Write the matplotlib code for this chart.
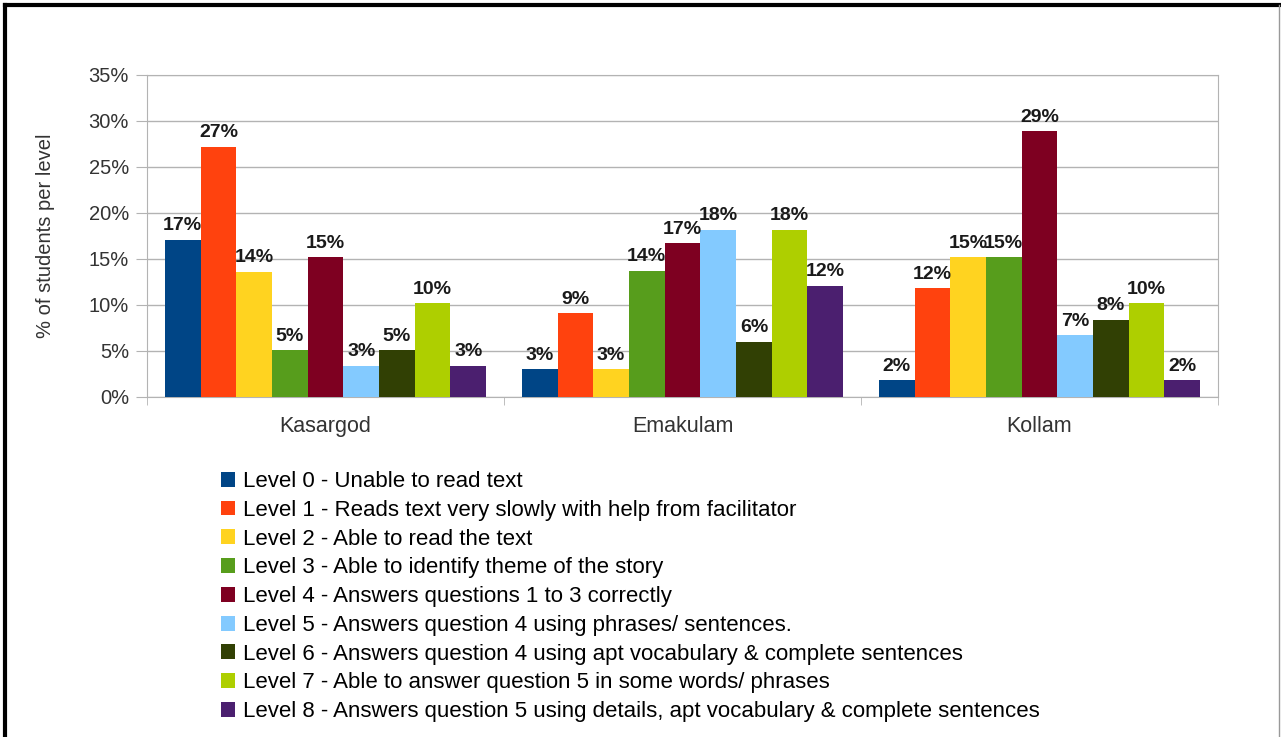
import matplotlib
matplotlib.use("Agg")
import matplotlib.pyplot as plt
from matplotlib.patches import Patch
from matplotlib.lines import Line2D
import numpy as np

plt.rcParams['font.family'] = ['Liberation Sans', 'DejaVu Sans']

districts = ["Kasargod", "Emakulam", "Kollam"]
levels = [
    "Level 0 - Unable to read text",
    "Level 1 - Reads text very slowly with help from facilitator",
    "Level 2 - Able to read the text",
    "Level 3 - Able to identify theme of the story",
    "Level 4 - Answers questions 1 to 3 correctly",
    "Level 5 - Answers question 4 using phrases/ sentences.",
    "Level 6 - Answers question 4 using apt vocabulary & complete sentences",
    "Level 7 - Able to answer question 5 in some words/ phrases",
    "Level 8 - Answers question 5 using details, apt vocabulary & complete sentences",
]
colors = ["#004586", "#ff420e", "#ffd320", "#579d1c", "#7e0021",
          "#83caff", "#314004", "#aecf00", "#4b1f6f"]

# values per level: [Kasargod, Emakulam, Kollam]
level0 = [17.1, 3.0, 1.8]
level1 = [27.2, 9.1, 11.8]
level2 = [13.6, 3.0, 15.2]
level3 = [5.1, 13.7, 15.2]
level4 = [15.2, 16.7, 28.9]
level5 = [3.4, 18.2, 6.7]
level6 = [5.1, 6.0, 8.4]
level7 = [10.2, 18.2, 10.2]
level8 = [3.4, 12.1, 1.8]
values = [level0, level1, level2, level3, level4, level5, level6, level7, level8]

fig = plt.figure(figsize=(12.81, 7.37), dpi=100)
ax = fig.add_axes([147/1281, 1-397/737, (1218-147)/1281, (397-75)/737])

n = len(levels)
w = 0.1
x = np.arange(len(districts))
for i, (vals, c) in enumerate(zip(values, colors)):
    pos = x + (i - (n - 1) / 2) * w
    bars = ax.bar(pos, vals, width=w, color=c, zorder=3)
    for b, v in zip(bars, vals):
        ax.text(b.get_x() + b.get_width() / 2, v + 0.6, f"{v:.0f}%",
                ha="center", va="bottom", fontsize=14, fontweight="bold",
                color="#1a1a1a", zorder=4)

ax.set_xlim(-0.5, len(districts) - 0.5)
ax.set_ylim(0, 35)
ax.set_yticks(np.arange(0, 36, 5))
ax.set_yticklabels([f"{t}%" for t in range(0, 36, 5)], fontsize=14.5, color="#333333")
ax.yaxis.grid(True, color="#b3b3b3", linewidth=1, zorder=0)
ax.set_axisbelow(True)
for s in ["top", "right", "left", "bottom"]:
    ax.spines[s].set_color("#b3b3b3")
ax.tick_params(axis="y", length=8, color="#b3b3b3", pad=5)
ax.set_xticks(x)
ax.set_xticklabels(districts, fontsize=15.5, color="#333333")
ax.tick_params(axis="x", length=0, pad=14)
ax.set_xticks(np.arange(-0.5, len(districts), 1), minor=True)
ax.tick_params(axis="x", which="minor", length=6, color="#b3b3b3")
ax.set_ylabel("% of students per level", fontsize=14.5, color="#333333", labelpad=24)

handles = [Patch(facecolor=c, edgecolor="none") for c in colors]
fig.legend(handles, levels, loc="upper left", bbox_to_anchor=(221/1281, 1-471/737),
           frameon=False, fontsize=16, handlelength=0.65, handleheight=0.65,
           handletextpad=0.35, labelspacing=0.35, borderaxespad=0, borderpad=0)

# outer frame
fig.add_artist(Line2D([5/1281, 1], [1-5/737, 1-5/737], transform=fig.transFigure,
                      color="black", linewidth=3))
fig.add_artist(Line2D([5/1281, 5/1281], [0, 1-5/737], transform=fig.transFigure,
                      color="black", linewidth=3))
fig.add_artist(Line2D([1279/1281, 1279/1281], [0, 1-5/737], transform=fig.transFigure,
                      color="#999999", linewidth=1))

fig.savefig("out.png", dpi=100)
